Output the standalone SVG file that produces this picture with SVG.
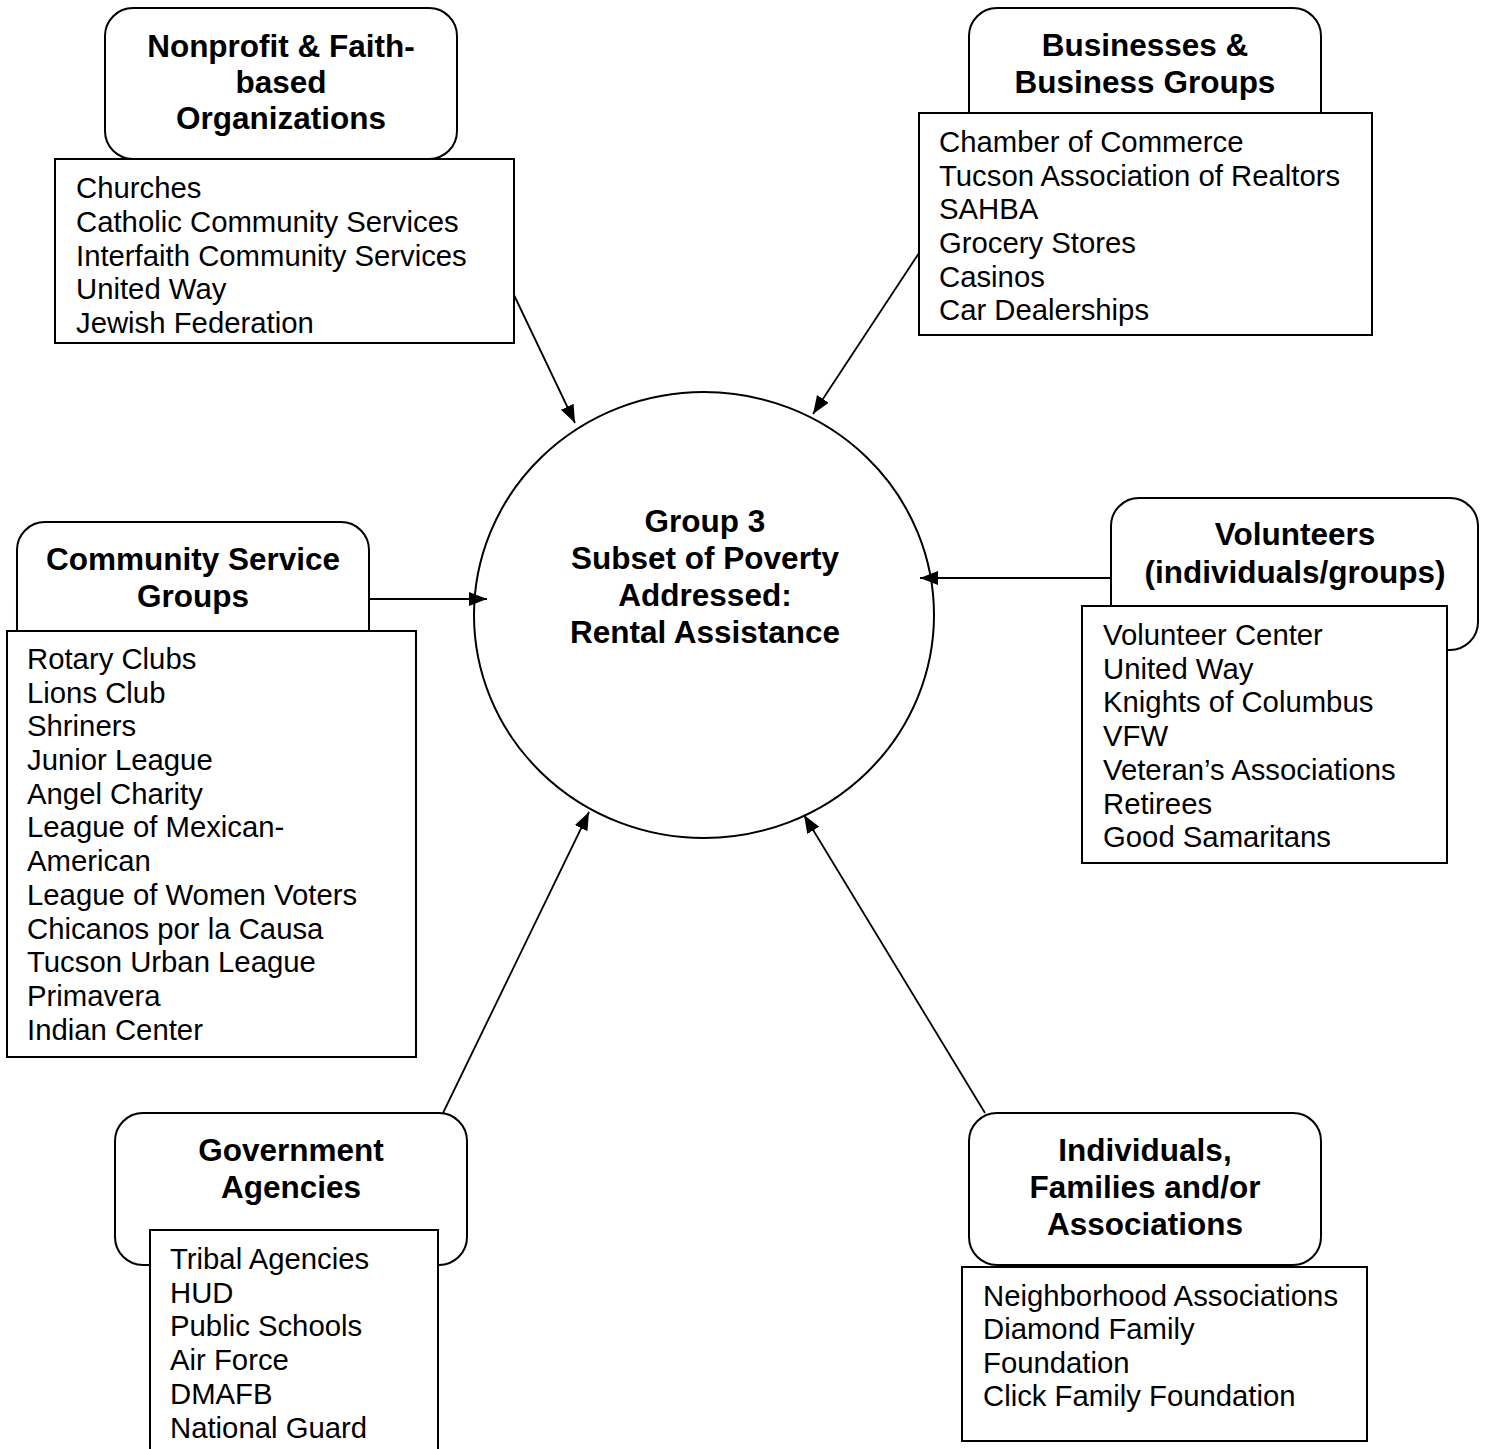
<svg xmlns="http://www.w3.org/2000/svg" width="1486" height="1449" viewBox="0 0 1486 1449">
<style>
.rr{fill:#fff;stroke:#000;stroke-width:2}
.bx{fill:#fff;stroke:#000;stroke-width:2}
.t{font-family:"Liberation Sans",Arial,sans-serif;font-weight:bold;font-size:31.5px;text-anchor:middle;fill:#000}
.l{font-family:"Liberation Sans",Arial,sans-serif;font-size:29.3px;fill:#000}
.c{fill:none;stroke:#000;stroke-width:1.8}
</style>
<defs>
<marker id="ah" markerUnits="userSpaceOnUse" markerWidth="19" markerHeight="15" refX="18" refY="7" orient="auto">
<path d="M0,0 L18,7 L0,14 z" fill="#000"/>
</marker>
</defs>
<rect width="1486" height="1449" fill="#fff"/>

<g id="center">
<ellipse cx="704" cy="615" rx="230" ry="223" fill="#fff" stroke="#000" stroke-width="2"/>
<text class="t" x="705" y="532">Group 3</text>
<text class="t" x="705" y="569">Subset of Poverty</text>
<text class="t" x="705" y="606">Addressed:</text>
<text class="t" x="705" y="643">Rental Assistance</text>
</g>

<g id="nonprofit">
<rect class="rr" x="105" y="8" width="352" height="151" rx="28"/>
<rect class="bx" x="55" y="159" width="459" height="184"/>
<text class="t" x="281" y="57">Nonprofit &amp; Faith-</text>
<text class="t" x="281" y="93">based</text>
<text class="t" x="281" y="129">Organizations</text>
<text class="l" x="76" y="198">Churches</text>
<text class="l" x="76" y="232">Catholic Community Services</text>
<text class="l" x="76" y="266">Interfaith Community Services</text>
<text class="l" x="76" y="299">United Way</text>
<text class="l" x="76" y="333">Jewish Federation</text>
</g>

<g id="business">
<rect class="rr" x="969" y="8" width="352" height="140" rx="28"/>
<rect class="bx" x="919" y="113" width="453" height="222"/>
<text class="t" x="1145" y="56">Businesses &amp;</text>
<text class="t" x="1145" y="93">Business Groups</text>
<text class="l" x="939" y="152">Chamber of Commerce</text>
<text class="l" x="939" y="186">Tucson Association of Realtors</text>
<text class="l" x="939" y="219">SAHBA</text>
<text class="l" x="939" y="253">Grocery Stores</text>
<text class="l" x="939" y="287">Casinos</text>
<text class="l" x="939" y="320">Car Dealerships</text>
</g>

<g id="community">
<rect class="rr" x="17" y="522" width="352" height="150" rx="28"/>
<rect class="bx" x="7" y="631" width="409" height="426"/>
<text class="t" x="193" y="570">Community Service</text>
<text class="t" x="193" y="607">Groups</text>
<text class="l" x="27" y="669">Rotary Clubs</text>
<text class="l" x="27" y="703">Lions Club</text>
<text class="l" x="27" y="736">Shriners</text>
<text class="l" x="27" y="770">Junior League</text>
<text class="l" x="27" y="804">Angel Charity</text>
<text class="l" x="27" y="837">League of Mexican-</text>
<text class="l" x="27" y="871">American</text>
<text class="l" x="27" y="905">League of Women Voters</text>
<text class="l" x="27" y="939">Chicanos por la Causa</text>
<text class="l" x="27" y="972">Tucson Urban League</text>
<text class="l" x="27" y="1006">Primavera</text>
<text class="l" x="27" y="1040">Indian Center</text>
</g>

<g id="volunteers">
<rect class="rr" x="1111" y="498" width="367" height="152" rx="28"/>
<rect class="bx" x="1082" y="606" width="365" height="257"/>
<text class="t" x="1295" y="545">Volunteers</text>
<text class="t" x="1295" y="583">(individuals/groups)</text>
<text class="l" x="1103" y="645">Volunteer Center</text>
<text class="l" x="1103" y="679">United Way</text>
<text class="l" x="1103" y="712">Knights of Columbus</text>
<text class="l" x="1103" y="746">VFW</text>
<text class="l" x="1103" y="780">Veteran’s Associations</text>
<text class="l" x="1103" y="814">Retirees</text>
<text class="l" x="1103" y="847">Good Samaritans</text>
</g>

<g id="government">
<rect class="rr" x="115" y="1113" width="352" height="152" rx="28"/>
<rect class="bx" x="150" y="1230" width="288" height="230"/>
<text class="t" x="291" y="1161">Government</text>
<text class="t" x="291" y="1198">Agencies</text>
<text class="l" x="170" y="1269">Tribal Agencies</text>
<text class="l" x="170" y="1303">HUD</text>
<text class="l" x="170" y="1336">Public Schools</text>
<text class="l" x="170" y="1370">Air Force</text>
<text class="l" x="170" y="1404">DMAFB</text>
<text class="l" x="170" y="1438">National Guard</text>
</g>

<g id="individuals">
<rect class="rr" x="969" y="1113" width="352" height="152" rx="28"/>
<rect class="bx" x="962" y="1267" width="405" height="174"/>
<text class="t" x="1145" y="1161">Individuals,</text>
<text class="t" x="1145" y="1198">Families and/or</text>
<text class="t" x="1145" y="1235">Associations</text>
<text class="l" x="983" y="1306">Neighborhood Associations</text>
<text class="l" x="983" y="1339">Diamond Family</text>
<text class="l" x="983" y="1373">Foundation</text>
<text class="l" x="983" y="1406">Click Family Foundation</text>
</g>

<g id="connectors">
<line class="c" x1="514" y1="295" x2="575" y2="423" marker-end="url(#ah)"/>
<line class="c" x1="919" y1="253" x2="813" y2="414" marker-end="url(#ah)"/>
<line class="c" x1="369" y1="599" x2="487" y2="599" marker-end="url(#ah)"/>
<line class="c" x1="1111" y1="578" x2="920" y2="578" marker-end="url(#ah)"/>
<line class="c" x1="443" y1="1113" x2="589" y2="812" marker-end="url(#ah)"/>
<line class="c" x1="985" y1="1113" x2="804" y2="815" marker-end="url(#ah)"/>
</g>
</svg>
